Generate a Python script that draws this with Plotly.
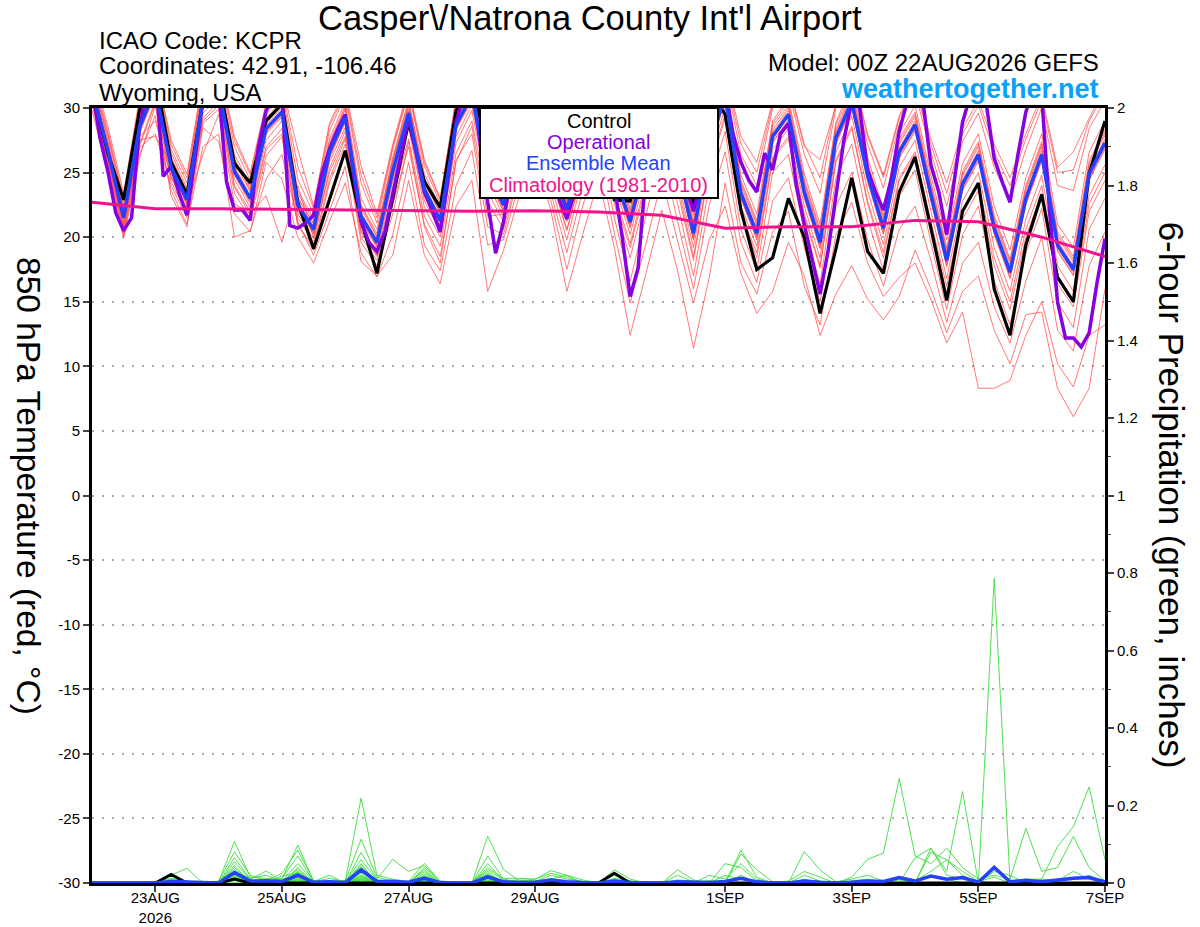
import numpy as np
import pandas as pd
import plotly.graph_objects as go

# time axes: GEFS members / control / mean every 6 h, operational every 3 h, climatology daily
times = pd.date_range("2026-08-22 00:00", "2026-09-07 00:00", freq="6h")
op_times = pd.date_range("2026-08-22 00:00", "2026-09-07 00:00", freq="3h")
clim_days = pd.date_range("2026-08-22", "2026-09-07", freq="D")

control_temp = [
    31.5, 26.5, 22.9, 29.8, 32.5, 25.8, 23.3, 30.5, 32.0, 25.7, 24.2, 29.0, 30.3,
    22.7, 19.1, 23.0, 26.7, 21.3, 17.2, 23.0, 28.9, 24.3, 22.3, 29.8, 32.0, 26.5,
    24.5, 28.5, 31.5, 27.0, 24.5, 28.0, 31.0, 22.9, 22.8, 27.5, 31.0, 26.0, 22.4,
    31.5, 29.5, 22.1, 17.5, 18.4, 23.0, 20.0, 14.1, 19.1, 24.6, 18.9, 17.2, 23.5,
    26.2, 20.7, 15.1, 22.0, 24.2, 16.0, 12.4, 19.4, 23.3, 16.9, 15.0, 24.9, 29.0,
]

mean_temp = [
    31.5, 26.7, 21.5, 28.5, 31.5, 25.4, 22.9, 30.5, 31.5, 25.1, 23.0, 28.4, 29.7,
    22.5, 20.6, 26.6, 29.3, 21.6, 19.6, 25.1, 29.6, 23.7, 21.3, 28.7, 31.0, 25.0,
    22.5, 27.5, 31.0, 26.0, 22.1, 27.0, 31.0, 25.0, 21.2, 26.0, 31.0, 25.5, 20.3,
    27.0, 31.0, 23.4, 20.3, 27.8, 29.5, 23.5, 19.6, 27.7, 30.5, 24.8, 20.7, 26.6,
    28.7, 23.3, 18.2, 24.1, 26.4, 20.7, 17.3, 23.0, 26.4, 19.4, 17.5, 24.9, 27.3,
]

oper_temp = [
    31.5, 27.7, 25.1, 21.9, 20.5, 21.5, 28.5, 31.5,
    33.0, 24.7, 25.5, 23.4, 21.7, 26.0, 30.5, 32.0,
    31.5, 24.3, 22.1, 22.1, 21.3, 26.9, 29.8, 30.8,
    31.0, 20.9, 20.7, 21.1, 21.7, 24.8, 26.8, 28.3,
    29.5, 25.1, 21.2, 19.6, 18.9, 20.4, 23.3, 26.1,
    29.2, 26.4, 23.5, 22.0, 20.4, 24.5, 28.9, 31.0,
    32.0, 27.5, 22.7, 18.75, 21.2, 25.0, 28.0, 30.5,
    31.5, 29.0, 26.0, 23.0, 21.4, 23.5, 27.0, 30.0,
    31.5, 28.0, 24.0, 20.0, 15.4, 17.6, 25.0, 29.5,
    31.5, 29.0, 26.0, 24.0, 22.0, 24.5, 27.5, 30.5,
    31.5, 28.0, 25.8, 24.4, 23.5, 26.5, 25.2, 28.0,
    28.8, 24.0, 21.0, 18.3, 15.6, 18.9, 23.0, 27.5,
    30.5, 30.0, 25.2, 23.5, 22.1, 24.5, 28.2, 30.5,
    32.0, 30.5, 25.6, 23.5, 20.2, 24.5, 28.9, 31.0,
    32.0, 30.3, 26.1, 24.3, 22.7, 26.4, 29.7, 31.5,
    31.0, 22.0, 15.0, 12.2, 12.2, 11.5, 12.6, 16.5,
    19.9,
]

clim_temp = [22.7, 22.2, 22.2, 22.15, 22.1, 22.0, 22.0, 22.05, 21.95,
             21.7, 20.7, 20.8, 20.8, 21.3, 21.2, 20.0, 18.5]

# one row per 6-hour step, one value per ensemble member (20 members)
member_temp_rows = [
    [32.5, 31.8, 33.0, 31.2, 30.8, 32.0, 31.5, 30.5, 32.4, 31.0, 30.2, 31.7, 32.8, 29.8, 31.3, 30.6, 32.1, 31.9, 30.9, 31.4],
    [27.5, 26.8, 28.6, 26.0, 25.6, 27.2, 26.5, 25.3, 28.0, 26.9, 25.8, 27.0, 28.2, 25.1, 26.3, 26.1, 27.8, 27.3, 25.9, 26.6],
    [22.0, 21.4, 23.4, 20.8, 20.3, 22.3, 21.0, 20.1, 22.8, 21.7, 20.6, 21.9, 23.0, 19.9, 21.2, 20.9, 22.5, 22.1, 20.4, 21.6],
    [29.5, 28.4, 30.8, 27.2, 26.9, 29.0, 28.0, 26.4, 30.2, 28.7, 27.5, 28.9, 30.5, 26.1, 28.2, 27.8, 29.8, 29.2, 27.0, 28.6],
    [32.4, 31.5, 33.2, 30.6, 28.0, 32.0, 31.2, 29.4, 32.8, 31.8, 27.8, 31.7, 33.0, 30.2, 31.0, 29.0, 32.5, 32.2, 30.4, 31.4],
    [26.2, 25.3, 27.5, 24.6, 24.0, 26.0, 25.0, 23.6, 26.8, 25.6, 25.8, 25.4, 27.2, 23.2, 25.1, 24.7, 26.5, 26.0, 24.3, 25.2],
    [23.6, 22.8, 24.9, 22.1, 21.5, 23.4, 22.5, 21.0, 24.2, 23.0, 22.4, 23.1, 24.6, 20.8, 22.6, 22.2, 23.8, 23.5, 21.8, 22.7],
    [31.2, 30.4, 32.3, 29.6, 28.8, 31.0, 30.2, 27.0, 31.8, 30.6, 26.4, 30.7, 32.0, 28.5, 30.0, 29.2, 31.5, 31.2, 29.0, 30.3],
    [32.3, 31.4, 33.3, 30.8, 29.9, 32.0, 31.0, 28.0, 32.8, 31.6, 29.5, 31.7, 33.1, 27.4, 31.2, 30.5, 32.5, 32.1, 30.2, 31.3],
    [26.0, 25.2, 27.8, 24.5, 23.4, 25.8, 24.8, 20.0, 27.0, 25.3, 22.6, 25.5, 27.5, 21.8, 24.9, 24.0, 26.4, 26.1, 23.9, 25.0],
    [23.8, 22.9, 25.0, 22.3, 21.4, 23.5, 22.6, 20.5, 24.4, 23.1, 21.8, 23.2, 24.8, 20.4, 22.8, 22.0, 24.0, 23.6, 21.7, 22.9],
    [29.2, 28.3, 30.4, 27.5, 26.3, 29.0, 28.0, 24.5, 29.8, 28.5, 23.2, 28.7, 30.1, 25.8, 28.1, 27.0, 29.5, 29.1, 26.8, 28.2],
    [30.6, 29.6, 31.8, 29.0, 27.8, 30.3, 29.3, 26.4, 31.3, 29.8, 19.6, 30.0, 31.6, 24.5, 29.5, 28.4, 31.0, 30.5, 28.0, 29.4],
    [23.4, 22.4, 26.8, 21.8, 20.9, 23.0, 22.0, 21.2, 24.5, 22.6, 24.0, 22.7, 25.5, 20.0, 22.3, 21.5, 23.6, 23.1, 21.0, 22.2],
    [21.3, 20.5, 22.4, 19.9, 19.3, 21.0, 20.2, 18.6, 21.8, 20.7, 20.0, 20.8, 22.2, 18.0, 20.4, 19.6, 21.5, 21.1, 19.0, 20.3],
    [27.3, 26.5, 28.8, 25.8, 24.5, 27.0, 26.2, 22.0, 28.2, 26.7, 25.0, 26.8, 28.6, 21.2, 26.3, 25.3, 27.6, 27.1, 24.2, 26.0],
    [30.2, 29.2, 31.5, 28.5, 27.6, 29.9, 28.9, 25.5, 31.0, 29.4, 27.8, 29.5, 31.2, 24.2, 29.0, 28.2, 30.5, 30.0, 27.2, 29.1],
    [22.5, 21.5, 25.5, 20.8, 20.0, 22.2, 21.2, 18.1, 24.2, 21.7, 20.5, 21.9, 24.8, 18.8, 21.4, 20.4, 23.0, 22.4, 19.6, 21.3],
    [20.3, 19.5, 21.8, 18.8, 18.2, 20.0, 19.2, 17.0, 21.1, 19.7, 18.6, 19.8, 21.5, 16.9, 19.4, 18.5, 20.6, 20.1, 17.8, 19.3],
    [26.0, 25.0, 27.2, 24.3, 23.1, 25.7, 24.6, 18.6, 26.8, 25.2, 22.5, 25.4, 27.0, 20.2, 24.9, 23.8, 26.2, 25.9, 21.8, 24.7],
    [30.5, 29.5, 31.6, 28.8, 27.6, 30.1, 29.2, 24.4, 31.2, 29.7, 27.0, 29.8, 31.4, 25.8, 29.4, 28.5, 30.6, 30.2, 27.4, 29.3],
    [24.6, 23.6, 26.0, 22.8, 21.6, 24.3, 23.2, 18.6, 25.5, 23.8, 21.0, 24.0, 25.8, 19.4, 23.5, 22.3, 24.9, 24.4, 20.8, 23.3],
    [22.1, 21.2, 23.0, 20.5, 19.3, 21.8, 20.9, 16.4, 22.6, 21.4, 18.5, 21.5, 22.9, 17.4, 21.0, 20.0, 22.3, 21.9, 18.0, 21.1],
    [29.6, 28.6, 30.8, 27.8, 26.5, 29.2, 28.3, 22.4, 30.4, 28.8, 25.8, 29.0, 30.6, 24.0, 28.5, 27.3, 29.9, 29.4, 26.0, 28.4],
    [31.9, 31.0, 33.0, 30.2, 29.0, 31.5, 30.6, 24.4, 32.5, 31.1, 28.6, 31.3, 32.8, 26.7, 30.8, 29.8, 32.0, 31.6, 28.0, 30.7],
    [26.0, 25.0, 27.8, 24.2, 22.8, 25.6, 24.6, 15.8, 27.2, 25.2, 21.6, 25.4, 27.5, 19.4, 24.8, 23.5, 26.3, 25.8, 20.8, 24.5],
    [23.4, 22.4, 25.0, 21.6, 20.6, 23.0, 22.0, 19.0, 24.4, 22.6, 21.8, 22.8, 24.8, 19.8, 22.2, 21.2, 23.6, 23.2, 20.2, 22.0],
    [28.5, 27.4, 30.0, 26.6, 25.3, 28.0, 27.1, 23.2, 29.4, 27.6, 26.0, 27.8, 29.8, 24.2, 27.3, 26.2, 28.7, 28.2, 25.0, 27.0],
    [31.9, 31.0, 33.0, 30.2, 29.0, 31.5, 30.6, 26.4, 32.5, 31.1, 29.4, 31.3, 32.8, 27.8, 30.8, 29.8, 32.0, 31.6, 28.5, 30.7],
    [27.0, 25.9, 28.8, 25.1, 24.0, 26.5, 25.6, 22.0, 28.0, 26.1, 24.6, 26.3, 28.5, 22.8, 25.8, 24.6, 27.2, 26.7, 23.4, 25.5],
    [23.0, 22.0, 25.0, 21.2, 19.8, 22.6, 21.6, 15.8, 24.2, 22.2, 20.6, 22.4, 24.6, 17.5, 21.9, 20.5, 23.2, 22.8, 18.8, 21.8],
    [28.0, 26.9, 29.6, 26.1, 24.6, 27.5, 26.6, 20.2, 29.0, 27.1, 25.0, 27.3, 29.4, 22.4, 26.8, 25.4, 28.2, 27.7, 23.6, 26.5],
    [31.9, 31.0, 33.0, 30.2, 28.8, 31.5, 30.6, 24.5, 32.5, 31.1, 29.2, 31.3, 32.8, 26.5, 30.8, 29.6, 32.0, 31.6, 27.8, 30.7],
    [26.0, 24.9, 27.4, 24.1, 22.6, 25.6, 24.5, 19.2, 27.0, 25.1, 23.0, 25.3, 27.2, 20.3, 24.8, 23.4, 26.2, 25.7, 21.5, 24.6],
    [22.2, 21.1, 24.8, 20.2, 18.4, 21.8, 20.7, 12.4, 23.6, 21.3, 19.2, 21.5, 24.2, 14.9, 21.0, 19.5, 22.6, 22.0, 16.6, 20.8],
    [27.0, 25.9, 28.4, 25.0, 23.2, 26.6, 25.5, 17.2, 28.0, 26.1, 24.0, 26.3, 28.2, 19.5, 25.8, 24.4, 27.2, 26.7, 21.8, 25.6],
    [31.9, 31.0, 33.0, 30.0, 28.4, 31.5, 30.6, 22.1, 32.5, 31.1, 29.0, 31.3, 32.8, 24.5, 30.8, 29.6, 32.0, 31.6, 26.8, 30.7],
    [26.5, 25.4, 27.8, 24.5, 22.6, 26.1, 25.0, 17.4, 27.4, 25.6, 23.6, 25.8, 27.6, 19.6, 25.3, 24.0, 26.7, 26.2, 21.2, 25.1],
    [21.3, 20.2, 24.6, 19.2, 17.0, 20.9, 19.8, 11.4, 23.4, 20.4, 18.2, 20.6, 24.0, 14.9, 20.1, 18.5, 21.7, 21.1, 16.0, 19.8],
    [28.0, 26.9, 29.0, 26.0, 24.0, 27.5, 26.5, 16.9, 28.6, 27.1, 25.2, 27.3, 28.8, 19.8, 26.8, 25.4, 27.9, 27.6, 22.5, 26.6],
    [31.9, 31.0, 33.0, 30.0, 28.2, 31.5, 30.6, 24.2, 32.5, 31.1, 29.2, 31.3, 32.8, 22.4, 30.8, 29.5, 32.0, 31.6, 26.6, 30.7],
    [24.4, 23.3, 27.8, 22.4, 20.6, 24.0, 23.0, 18.0, 26.4, 23.5, 21.8, 23.7, 27.2, 17.2, 23.2, 21.8, 24.8, 24.2, 19.6, 23.0],
    [21.3, 20.2, 25.8, 19.3, 17.4, 20.9, 19.8, 15.6, 24.0, 20.4, 18.8, 20.6, 25.0, 14.1, 20.1, 18.4, 21.8, 21.1, 16.5, 19.9],
    [28.8, 27.7, 30.5, 26.8, 25.0, 28.3, 27.3, 20.4, 30.0, 27.9, 26.2, 28.1, 30.3, 15.8, 27.6, 26.0, 29.0, 28.6, 22.8, 27.4],
    [30.5, 29.4, 32.0, 28.4, 26.4, 30.0, 29.0, 22.0, 31.4, 29.6, 27.8, 29.8, 31.8, 19.6, 29.3, 27.6, 30.8, 30.2, 24.6, 29.1],
    [24.5, 23.4, 27.2, 22.4, 20.4, 24.1, 23.0, 16.2, 26.4, 23.6, 21.8, 23.8, 27.0, 17.0, 23.3, 21.6, 24.9, 24.3, 19.2, 23.1],
    [20.6, 19.5, 24.6, 18.4, 16.4, 20.2, 19.1, 13.2, 23.4, 19.7, 17.8, 19.9, 26.0, 12.4, 19.4, 17.6, 21.0, 20.4, 15.0, 19.2],
    [28.7, 27.6, 30.4, 26.6, 24.6, 28.2, 27.2, 20.2, 30.0, 27.8, 26.0, 28.0, 30.2, 15.6, 27.5, 25.8, 28.9, 28.4, 22.4, 27.3],
    [31.5, 30.4, 33.0, 29.4, 27.2, 31.0, 30.0, 22.7, 32.4, 30.6, 28.6, 30.8, 32.8, 17.8, 30.3, 28.4, 31.8, 31.2, 25.0, 30.1],
    [25.8, 24.7, 28.0, 23.6, 21.4, 25.4, 24.3, 18.0, 27.2, 24.9, 22.8, 25.1, 27.8, 15.2, 24.6, 22.6, 26.2, 25.6, 19.8, 24.4],
    [21.7, 20.6, 24.8, 19.4, 17.4, 21.3, 20.2, 15.4, 23.8, 20.8, 18.8, 21.0, 24.6, 13.6, 20.5, 18.4, 22.1, 21.5, 16.2, 20.3],
    [27.6, 26.5, 29.4, 25.4, 23.2, 27.2, 26.1, 16.9, 28.8, 26.7, 24.6, 26.9, 29.2, 15.4, 26.4, 24.4, 28.0, 27.4, 20.6, 26.2],
    [29.7, 28.6, 32.0, 27.5, 25.2, 29.3, 28.2, 18.0, 31.2, 28.8, 26.6, 29.0, 31.6, 19.0, 28.5, 26.4, 30.2, 29.5, 22.4, 28.3],
    [24.3, 23.2, 27.6, 22.0, 19.6, 23.9, 22.8, 15.2, 26.6, 23.4, 21.2, 23.6, 27.2, 16.0, 23.1, 20.8, 24.8, 24.1, 18.2, 22.9],
    [19.2, 18.1, 24.2, 16.8, 14.4, 18.8, 17.7, 11.8, 22.4, 18.3, 16.2, 18.5, 23.4, 12.6, 18.0, 15.6, 19.8, 19.0, 13.4, 17.8],
    [25.1, 24.0, 28.4, 22.8, 20.2, 24.7, 23.6, 14.2, 27.4, 24.2, 22.0, 24.4, 28.0, 15.8, 23.9, 21.4, 25.7, 24.9, 18.0, 23.7],
    [27.4, 26.3, 30.6, 25.0, 22.4, 27.0, 25.9, 8.3, 29.6, 26.5, 24.2, 26.7, 30.2, 17.0, 26.2, 23.6, 28.0, 27.2, 19.6, 26.0],
    [21.7, 20.6, 27.2, 19.2, 16.6, 21.3, 20.2, 8.3, 25.4, 20.8, 18.4, 21.0, 26.6, 12.8, 20.5, 17.8, 22.4, 21.5, 14.6, 20.3],
    [18.3, 17.2, 24.6, 15.8, 13.2, 17.9, 16.8, 8.9, 22.8, 17.4, 15.0, 17.6, 24.0, 10.2, 17.1, 14.4, 19.0, 18.1, 11.8, 16.9],
    [24.0, 22.9, 28.0, 21.4, 18.8, 23.6, 22.5, 12.4, 26.8, 23.1, 20.6, 23.3, 27.6, 14.0, 22.8, 20.0, 24.6, 23.8, 16.6, 22.6],
    [27.4, 26.3, 31.0, 24.8, 22.2, 27.0, 25.9, 15.0, 30.0, 26.5, 24.0, 26.7, 30.6, 14.2, 26.2, 23.4, 28.0, 27.2, 20.0, 26.0],
    [20.4, 19.3, 25.4, 17.8, 15.0, 20.0, 18.9, 10.2, 24.0, 19.5, 17.0, 19.7, 25.0, 8.3, 19.2, 16.4, 21.0, 20.2, 12.8, 19.0],
    [18.5, 17.4, 26.6, 15.8, 13.0, 18.1, 17.0, 8.4, 23.6, 17.6, 15.2, 17.8, 25.2, 6.1, 17.3, 14.6, 19.2, 18.3, 11.2, 17.1],
    [25.9, 24.8, 29.2, 23.2, 20.6, 25.5, 24.4, 12.4, 28.4, 25.0, 22.6, 25.2, 29.0, 8.3, 24.7, 22.0, 26.6, 25.7, 17.8, 24.5],
    [28.3, 27.2, 31.6, 25.6, 23.0, 27.9, 26.8, 13.2, 30.6, 27.4, 25.0, 27.6, 31.2, 16.0, 27.1, 24.4, 29.0, 28.1, 20.4, 26.9],
]

# 6-hour precipitation (inches), one row per step, one value per member
member_precip_rows = [
    [0, 0, 0, 0, 0, 0, 0, 0, 0, 0, 0, 0, 0, 0, 0, 0, 0, 0, 0, 0],
    [0, 0, 0, 0, 0, 0, 0, 0, 0, 0, 0, 0, 0, 0, 0, 0, 0, 0, 0, 0],
    [0, 0, 0, 0, 0, 0, 0, 0, 0, 0, 0, 0, 0, 0, 0, 0, 0, 0, 0, 0],
    [0, 0, 0, 0, 0, 0, 0, 0, 0, 0, 0, 0, 0, 0, 0, 0, 0, 0, 0, 0],
    [0, 0, 0, 0.004, 0, 0, 0, 0, 0, 0, 0, 0, 0, 0, 0, 0, 0, 0, 0, 0],
    [0, 0.01, 0, 0.012, 0, 0, 0.005, 0, 0, 0.02, 0, 0, 0, 0.008, 0, 0, 0, 0, 0, 0],
    [0, 0, 0, 0.004, 0, 0, 0, 0, 0, 0.038, 0, 0, 0, 0.005, 0, 0, 0, 0, 0, 0],
    [0, 0, 0, 0, 0, 0, 0, 0, 0, 0, 0, 0, 0, 0, 0, 0, 0, 0, 0, 0],
    [0, 0.004, 0, 0, 0, 0.005, 0, 0, 0, 0, 0, 0, 0, 0, 0, 0, 0, 0.003, 0, 0],
    [0.035, 0.107, 0.015, 0.065, 0.025, 0.08, 0.045, 0, 0.055, 0.02, 0.012, 0.03, 0, 0.01, 0.04, 0.018, 0.008, 0.022, 0.006, 0.028],
    [0.005, 0.015, 0, 0.01, 0, 0.02, 0, 0, 0.008, 0, 0, 0.012, 0, 0, 0.006, 0, 0, 0, 0, 0.004],
    [0, 0.012, 0, 0.031, 0, 0.006, 0, 0, 0, 0.008, 0, 0.02, 0, 0, 0, 0, 0, 0, 0, 0.004],
    [0, 0.01, 0, 0.005, 0, 0.025, 0, 0, 0.012, 0, 0, 0.004, 0, 0, 0.018, 0, 0, 0, 0, 0],
    [0.03, 0.098, 0.012, 0.05, 0.02, 0.085, 0.04, 0, 0.07, 0.015, 0.01, 0.035, 0.005, 0.008, 0.025, 0.018, 0, 0.022, 0.006, 0.028],
    [0, 0.005, 0, 0.004, 0, 0.006, 0, 0, 0.003, 0, 0, 0, 0, 0, 0.005, 0, 0, 0, 0, 0],
    [0, 0, 0, 0.02, 0, 0.005, 0, 0, 0.012, 0, 0, 0, 0, 0, 0, 0.006, 0, 0, 0, 0],
    [0, 0.004, 0, 0, 0, 0.005, 0, 0, 0.003, 0, 0, 0.006, 0, 0, 0, 0, 0, 0, 0, 0],
    [0.04, 0.219, 0.015, 0.079, 0.02, 0.113, 0.05, 0, 0.06, 0.025, 0.01, 0.03, 0.005, 0.008, 0.045, 0.035, 0.012, 0.028, 0.006, 0.018],
    [0.005, 0.02, 0, 0.01, 0, 0.015, 0, 0, 0.008, 0, 0, 0.006, 0, 0, 0.004, 0, 0, 0.003, 0, 0],
    [0, 0.01, 0, 0.061, 0, 0.005, 0, 0, 0, 0.004, 0, 0.008, 0, 0, 0, 0, 0, 0, 0, 0],
    [0, 0.004, 0, 0.03, 0, 0, 0, 0, 0.003, 0, 0, 0, 0, 0, 0, 0, 0, 0, 0, 0],
    [0.02, 0.051, 0.01, 0.045, 0.012, 0.04, 0.015, 0, 0.03, 0.008, 0.005, 0.035, 0, 0.004, 0.025, 0.006, 0, 0.018, 0, 0.01],
    [0, 0.004, 0, 0.003, 0, 0.005, 0, 0, 0, 0, 0, 0, 0, 0, 0, 0, 0, 0, 0, 0],
    [0, 0, 0, 0, 0, 0, 0, 0, 0, 0, 0, 0, 0, 0, 0, 0, 0, 0, 0, 0],
    [0, 0, 0, 0, 0, 0, 0, 0, 0, 0, 0, 0, 0, 0, 0, 0, 0, 0, 0, 0],
    [0.03, 0.121, 0.01, 0.07, 0.015, 0.05, 0.025, 0, 0.04, 0.012, 0.006, 0.02, 0, 0.004, 0.035, 0.008, 0, 0.018, 0, 0.022],
    [0, 0.035, 0, 0.01, 0, 0.005, 0, 0, 0.012, 0, 0, 0.006, 0, 0, 0.008, 0, 0, 0, 0, 0],
    [0, 0.005, 0, 0.003, 0, 0.008, 0, 0, 0.012, 0, 0, 0, 0, 0, 0, 0, 0, 0, 0, 0],
    [0, 0.01, 0, 0.004, 0, 0.006, 0, 0, 0.01, 0, 0, 0, 0, 0, 0, 0, 0, 0, 0, 0],
    [0, 0.032, 0, 0.02, 0, 0.01, 0.005, 0, 0.025, 0, 0, 0.008, 0, 0, 0.012, 0, 0, 0, 0, 0],
    [0, 0.02, 0, 0.01, 0, 0.02, 0, 0, 0.015, 0, 0, 0.004, 0, 0, 0, 0, 0, 0, 0, 0],
    [0, 0, 0, 0.004, 0, 0.008, 0, 0, 0, 0, 0, 0, 0, 0, 0, 0, 0, 0, 0, 0],
    [0, 0, 0, 0, 0, 0, 0, 0, 0, 0, 0, 0, 0, 0, 0, 0, 0, 0, 0, 0],
    [0, 0.034, 0, 0.02, 0, 0.01, 0, 0, 0.012, 0, 0, 0.006, 0, 0, 0, 0, 0, 0, 0, 0],
    [0, 0.01, 0, 0.004, 0, 0, 0, 0, 0.006, 0, 0, 0, 0, 0, 0, 0, 0, 0, 0, 0],
    [0, 0, 0, 0.003, 0, 0, 0, 0, 0, 0, 0, 0, 0, 0, 0, 0, 0, 0, 0, 0],
    [0, 0, 0, 0, 0, 0, 0, 0, 0, 0, 0, 0, 0, 0, 0, 0, 0, 0, 0, 0],
    [0, 0.008, 0, 0, 0, 0.034, 0, 0, 0.02, 0, 0, 0, 0, 0, 0.005, 0, 0, 0, 0, 0],
    [0, 0.005, 0, 0, 0, 0.008, 0, 0, 0.003, 0, 0, 0, 0, 0, 0, 0, 0, 0, 0, 0],
    [0, 0, 0, 0, 0, 0, 0, 0, 0.006, 0, 0, 0, 0, 0, 0.02, 0, 0, 0, 0, 0],
    [0, 0, 0, 0, 0, 0.05, 0, 0, 0, 0, 0, 0.02, 0, 0, 0.01, 0, 0, 0, 0, 0],
    [0, 0.085, 0, 0.075, 0, 0.04, 0, 0, 0, 0.02, 0, 0.01, 0, 0, 0.05, 0, 0, 0, 0, 0],
    [0, 0.015, 0, 0.034, 0, 0.005, 0, 0, 0, 0, 0, 0, 0, 0, 0.01, 0, 0, 0, 0, 0],
    [0, 0, 0, 0.003, 0, 0, 0, 0, 0, 0, 0, 0, 0, 0, 0, 0, 0, 0, 0, 0],
    [0, 0, 0, 0, 0, 0, 0, 0, 0, 0, 0, 0.005, 0, 0, 0, 0, 0, 0, 0, 0],
    [0, 0.02, 0, 0, 0, 0.081, 0, 0, 0, 0, 0, 0.03, 0, 0, 0.01, 0, 0, 0, 0, 0],
    [0, 0.005, 0, 0, 0, 0.034, 0, 0, 0, 0, 0, 0.015, 0, 0, 0, 0, 0, 0, 0, 0],
    [0, 0, 0, 0, 0, 0.003, 0, 0, 0, 0, 0, 0, 0, 0, 0, 0, 0, 0, 0, 0],
    [0, 0, 0, 0, 0, 0.01, 0, 0.015, 0, 0, 0, 0, 0, 0, 0, 0.006, 0, 0, 0, 0],
    [0, 0, 0, 0, 0, 0.02, 0, 0.061, 0, 0, 0, 0, 0, 0, 0.008, 0.01, 0, 0, 0, 0],
    [0, 0, 0, 0, 0, 0.005, 0, 0.077, 0, 0, 0, 0, 0, 0, 0, 0.003, 0, 0, 0, 0],
    [0, 0.01, 0, 0, 0, 0, 0, 0.27, 0, 0, 0, 0, 0, 0, 0, 0, 0, 0, 0, 0.008],
    [0, 0, 0, 0, 0, 0.065, 0, 0.07, 0, 0, 0, 0, 0, 0, 0, 0, 0, 0, 0, 0.005],
    [0, 0.08, 0, 0, 0, 0.09, 0, 0.05, 0, 0, 0, 0.02, 0, 0.09, 0, 0, 0, 0, 0, 0.03],
    [0, 0.06, 0, 0, 0, 0.03, 0, 0.09, 0, 0, 0, 0.01, 0, 0.02, 0, 0, 0, 0, 0, 0.06],
    [0, 0.02, 0, 0, 0, 0.236, 0, 0.04, 0, 0, 0, 0, 0, 0.01, 0, 0, 0, 0, 0, 0.03],
    [0, 0, 0, 0, 0, 0, 0, 0.01, 0, 0, 0, 0.005, 0, 0, 0, 0, 0, 0, 0, 0.004],
    [0, 0.03, 0, 0, 0, 0, 0, 0.02, 0, 0, 0, 0, 0, 0.786, 0, 0, 0, 0, 0, 0.015],
    [0, 0.02, 0, 0, 0, 0, 0, 0.01, 0, 0, 0, 0, 0, 0.005, 0, 0, 0, 0, 0, 0],
    [0, 0, 0, 0, 0, 0, 0, 0.141, 0, 0, 0, 0, 0, 0.01, 0, 0, 0, 0, 0, 0],
    [0, 0, 0, 0, 0, 0, 0, 0.03, 0, 0, 0, 0, 0, 0.01, 0, 0, 0, 0, 0, 0.01],
    [0, 0.005, 0, 0, 0, 0, 0, 0.04, 0, 0, 0, 0, 0, 0.005, 0, 0, 0, 0, 0, 0.094],
    [0, 0.01, 0, 0, 0, 0, 0, 0.12, 0, 0, 0, 0, 0, 0.03, 0, 0, 0, 0, 0, 0.145],
    [0, 0.02, 0, 0, 0, 0, 0, 0.04, 0, 0, 0, 0, 0, 0.01, 0, 0, 0, 0, 0, 0.248],
    [0, 0, 0, 0, 0, 0, 0, 0.005, 0, 0, 0, 0, 0, 0, 0, 0, 0, 0, 0, 0.06],
]

control_precip = [
    0, 0, 0, 0, 0, 0.022, 0, 0, 0, 0.01, 0, 0, 0, 0, 0, 0, 0, 0, 0, 0, 0, 0, 0, 0, 0,
    0, 0, 0, 0, 0, 0, 0, 0, 0.025, 0, 0, 0, 0, 0, 0, 0, 0, 0, 0, 0, 0, 0, 0, 0, 0,
    0, 0, 0, 0, 0, 0, 0, 0, 0, 0, 0, 0, 0, 0, 0,
]

mean_precip = [
    0, 0, 0, 0, 0, 0.004, 0.003, 0, 0, 0.027, 0.005, 0.006, 0.004, 0.02, 0.002, 0.003,
    0.001, 0.034, 0.004, 0.004, 0.002, 0.012, 0.001, 0, 0, 0.016, 0.003, 0.001, 0.002,
    0.008, 0.003, 0.001, 0, 0.005, 0.001, 0, 0, 0.003, 0.001, 0.001, 0.004, 0.012,
    0.003, 0, 0, 0.005, 0.002, 0, 0.002, 0.005, 0.004, 0.014, 0.005, 0.018, 0.01,
    0.014, 0.002, 0.04, 0.003, 0.007, 0.003, 0.008, 0.012, 0.014, 0.003,
]

tick_days = ["2026-08-23", "2026-08-25", "2026-08-27", "2026-08-29",
             "2026-09-01", "2026-09-03", "2026-09-05", "2026-09-07"]
tick_labels = ["23AUG<br>2026", "25AUG", "27AUG", "29AUG",
               "1SEP", "3SEP", "5SEP", "7SEP"]
temp_ticks = [-30, -25, -20, -15, -10, -5, 0, 5, 10, 15, 20, 25, 30]

RED = "rgba(255,70,70,0.8)"
GREEN = "rgb(60,220,60)"
BLACK = "black"
PURPLE = "rgb(135,0,225)"
BLUE = "rgb(35,65,255)"
MAGENTA = "rgb(240,20,140)"
FONT = "Liberation Sans, Arial, Helvetica, sans-serif"

member_temps = np.array(member_temp_rows).T
member_precips = np.array(member_precip_rows).T

fig = go.Figure()

for series in member_temps:
    fig.add_trace(go.Scatter(x=times, y=series, mode="lines",
                             line=dict(color=RED, width=0.9), hoverinfo="skip"))

for series in member_precips:
    fig.add_trace(go.Scatter(x=times, y=series, mode="lines", yaxis="y2",
                             line=dict(color=GREEN, width=0.9), hoverinfo="skip"))

fig.add_trace(go.Scatter(x=times, y=control_precip, mode="lines", yaxis="y2",
                         line=dict(color=BLACK, width=3)))
fig.add_trace(go.Scatter(x=times, y=mean_precip, mode="lines", yaxis="y2",
                         line=dict(color=BLUE, width=3.5)))

fig.add_trace(go.Scatter(x=times, y=control_temp, mode="lines",
                         line=dict(color=BLACK, width=3.2), name="Control"))
fig.add_trace(go.Scatter(x=op_times, y=oper_temp, mode="lines",
                         line=dict(color=PURPLE, width=3.5), name="Operational"))
fig.add_trace(go.Scatter(x=times, y=mean_temp, mode="lines",
                         line=dict(color=BLUE, width=3.5), name="Ensemble Mean"))
fig.add_trace(go.Scatter(x=clim_days, y=clim_temp, mode="lines",
                         line=dict(color=MAGENTA, width=3), name="Climatology"))

# legend box drawn by hand like the original
fig.add_shape(type="rect", xref="paper", yref="paper",
              x0=0.383, x1=0.618, y0=0.884, y1=1.0,
              line=dict(color="black", width=2), fillcolor="white", layer="above")

legend_items = [("Control", BLACK, 0.983), ("Operational", PURPLE, 0.956),
                ("Ensemble Mean", BLUE, 0.929), ("Climatology (1981-2010)", MAGENTA, 0.901)]
for text, color, ypos in legend_items:
    fig.add_annotation(text=text, xref="paper", yref="paper", x=0.5, y=ypos,
                       xanchor="center", yanchor="middle", showarrow=False,
                       font=dict(size=20, color=color, family=FONT))

header = [
    ("Casper\\/Natrona County Int'l Airport", 0.4916, 1.116, "center", 34.5, "black"),
    ("ICAO Code: KCPR", 0.005, 1.0877, "left", 24, "black"),
    ("Coordinates: 42.91, -106.46", 0.005, 1.0542, "left", 24, "black"),
    ("Wyoming, USA", 0.005, 1.0194, "left", 24, "black"),
    ("Model: 00Z 22AUG2026 GEFS", 0.996, 1.0581, "right", 24, "black"),
]
for text, xpos, ypos, anchor, size, color in header:
    fig.add_annotation(text=text, xref="paper", yref="paper", x=xpos, y=ypos,
                       xanchor=anchor, yanchor="middle", showarrow=False,
                       font=dict(size=size, color=color, family=FONT))

fig.add_annotation(text="<b>weathertogether.net</b>", xref="paper", yref="paper",
                   x=0.996, y=1.0245, xanchor="right", yanchor="middle", showarrow=False,
                   font=dict(size=27, color="rgb(10,160,250)", family=FONT))

fig.add_annotation(text="850 hPa Temperature (red, °C)", xref="paper", yref="paper",
                   x=-0.062, y=0.512, xanchor="center", yanchor="middle",
                   textangle=90, showarrow=False,
                   font=dict(size=33.5, color="black", family=FONT))
fig.add_annotation(text="6-hour Precipitation (green, inches)", xref="paper", yref="paper",
                   x=1.066, y=0.5, xanchor="center", yanchor="middle",
                   textangle=90, showarrow=False,
                   font=dict(size=35, color="black", family=FONT))

frame = dict(showline=True, linewidth=3, linecolor="black", automargin=False)

fig.update_layout(
    width=1200,
    height=927,
    margin=dict(l=92, r=95, t=108, b=44),
    plot_bgcolor="white",
    paper_bgcolor="white",
    showlegend=False,
    font=dict(family=FONT, color="black"),
    xaxis=dict(
        type="date",
        range=[times[0], times[-1]],
        tickvals=pd.to_datetime(tick_days),
        ticktext=tick_labels,
        tickangle=0,
        ticks="outside",
        ticklen=6,
        tickwidth=1.5,
        tickfont=dict(size=15),
        ticklabelstandoff=-7,
        showgrid=False,
        mirror=True,
        **frame,
    ),
    yaxis=dict(
        range=[-30, 30],
        tickvals=temp_ticks,
        ticktext=[str(t) for t in temp_ticks],  # plain hyphen minus like the original
        ticks="outside",
        ticklen=6,
        tickwidth=1.5,
        tickfont=dict(size=15),
        showgrid=True,
        gridcolor="rgb(170,170,170)",
        griddash="2px,8px",
        gridwidth=2,
        zeroline=False,
        mirror=True,
        **frame,
    ),
    yaxis2=dict(
        overlaying="y",
        side="right",
        range=[0, 2],
        tick0=0,
        dtick=0.2,
        ticks="outside",
        ticklen=6,
        tickwidth=1.5,
        tickfont=dict(size=15),
        minor=dict(dtick=0.1, ticks="outside", ticklen=3, tickwidth=1),
        showgrid=False,
        zeroline=False,
        **frame,
    ),
)

# the page is shown in a browser window of exactly the figure size: drop the default body margin
fig.write_html("out.html", config={"displayModeBar": False},
               post_script="document.body.style.margin='0';")
